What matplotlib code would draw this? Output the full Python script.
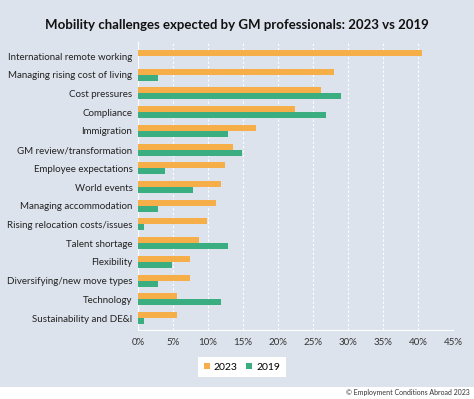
import numpy as np
import matplotlib.pyplot as plt
from matplotlib.patches import Rectangle

plt.rcParams['font.family'] = ['Lato', 'DejaVu Sans']

# --- Data ---
categories = [
    'International remote working',
    'Managing rising cost of living',
    'Cost pressures',
    'Compliance',
    'Immigration',
    'GM review/transformation',
    'Employee expectations',
    'World events',
    'Managing accommodation',
    'Rising relocation costs/issues',
    'Talent shortage',
    'Flexibility',
    'Diversifying/new move types',
    'Technology',
    'Sustainability and DE&I',
]
vals_2023 = [40.6, 28.0, 26.1, 22.4, 16.8, 13.6, 12.4, 11.8, 11.1, 9.9, 8.7, 7.4, 7.4, 5.5, 5.5]
vals_2019 = [0.0, 2.9, 29.0, 26.9, 12.9, 14.9, 3.9, 7.9, 2.9, 0.9, 12.9, 4.9, 2.9, 11.9, 0.9]
xticks = [0, 5, 10, 15, 20, 25, 30, 35, 40, 45]

c2023 = '#F5AE48'
c2019 = '#3AAE80'
bg = '#DDE3EC'

fig = plt.figure(figsize=(4.74, 3.99), dpi=100)
fig.patch.set_facecolor('white')
# blue-grey panel behind the chart, white strip at the bottom for the credit
fig.patches.append(Rectangle((0, 12 / 399), 1, 1, transform=fig.transFigure,
                             facecolor=bg, edgecolor='none', zorder=-1))

ax = fig.add_axes([138 / 474, 1 - 330 / 399, (453 - 138) / 474, (330 - 42) / 399])
ax.set_facecolor(bg)

y = np.arange(len(categories))
h = 0.32
ax.barh(y - h / 2, vals_2023, height=h, color=c2023, label='2023', zorder=3)
ax.barh(y + h / 2, vals_2019, height=h, color=c2019, label='2019', zorder=3)

ax.set_xlim(0, 45)
ax.set_ylim(len(categories) - 1 + 0.64, -0.75)
ax.set_xticks(xticks)
ax.set_xticklabels([f'{t}%' for t in xticks], fontsize=7, color='#333333')
ax.set_yticks(y)
ax.set_yticklabels(categories, fontsize=7, color='#222222')
ax.tick_params(length=0, pad=6)
ax.tick_params(axis='y', pad=4)
ax.xaxis.grid(True, color='white', linestyle=(0, (2, 2)), linewidth=0.8, zorder=0)

for s in ['top', 'right']:
    ax.spines[s].set_visible(False)
for s in ['left', 'bottom']:
    ax.spines[s].set_color('white')
    ax.spines[s].set_linewidth(0.8)

fig.text(237 / 474, 1 - 25 / 399, 'Mobility challenges expected by GM professionals: 2023 vs 2019',
         ha='center', va='center', fontsize=9.5, fontweight='bold', color='#111111')

leg = ax.legend(loc='center', bbox_to_anchor=(242 / 474, 1 - 367 / 399),
                bbox_transform=fig.transFigure, ncol=2, frameon=True, fontsize=7.5,
                handlelength=0.6, handleheight=0.6, handletextpad=0.4, columnspacing=0.8,
                borderpad=0.5, fancybox=False)
leg.get_frame().set_facecolor('white')
leg.get_frame().set_edgecolor('none')
leg.get_frame().set_alpha(1)

fig.text(470 / 474, 1 - 393 / 399, '© Employment Conditions Abroad 2023',
         ha='right', va='center', fontsize=5, color='#333333')

fig.savefig('out.png', dpi=100, facecolor=fig.get_facecolor())
